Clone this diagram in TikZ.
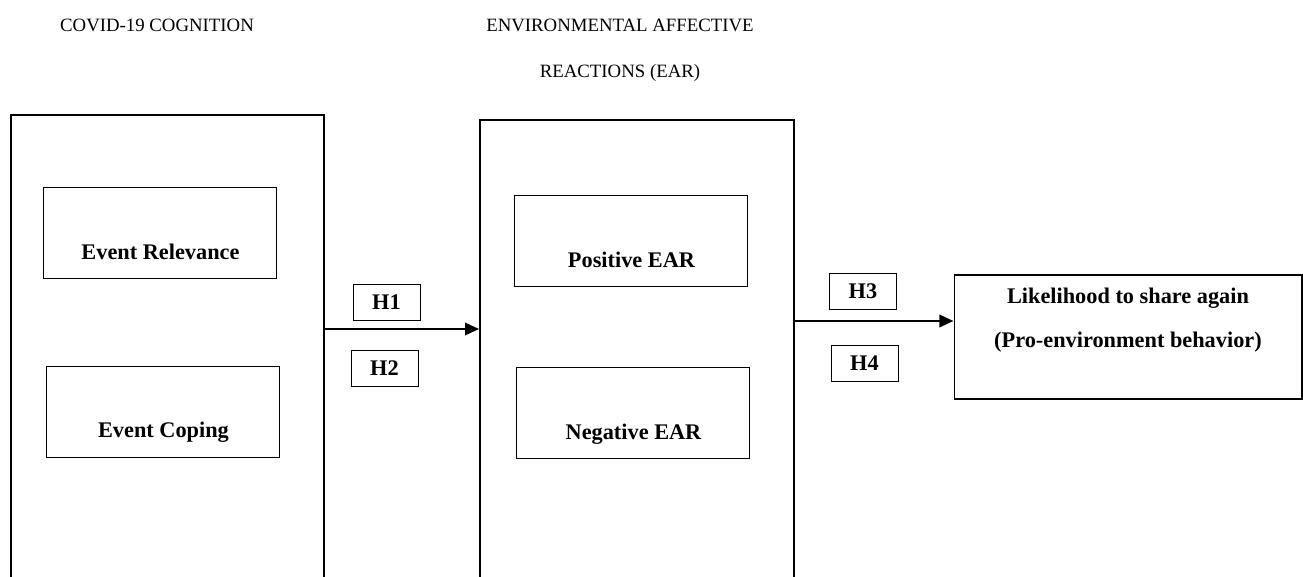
\documentclass[tikz,border=0pt]{standalone}
\usepackage{fontspec}
\setmainfont{Liberation Serif}
\usetikzlibrary{arrows.meta}
\tikzset{
    bigbox/.style={draw, line width=1.1pt, rectangle, inner sep=0pt},
    innerbox/.style={draw, line width=0.5pt, rectangle, inner sep=0pt, minimum width=4.66cm, minimum height=1.82cm},
    hbox/.style={draw, line width=0.5pt, rectangle, inner sep=0pt, minimum width=1.34cm, minimum height=0.72cm, font=\fontsize{12.7}{14}\selectfont\bfseries},
    lbl/.style={font=\fontsize{12.7}{14}\selectfont\bfseries, inner sep=0pt},
    head/.style={font=\fontsize{10.7}{13}\selectfont, inner sep=0pt},
    arr/.style={-{Triangle[length=8pt, width=7pt]}, line width=1.4pt}
}
\begin{document}
\begin{tikzpicture}[x=0.02cm, y=-0.02cm]
    \useasboundingbox (0,0) rectangle (1303,577);
    % Headings
    \node[head] (hcog) at (157,25) {COVID-19 COGNITION};
    \node[head] (hear1) at (620,25) {ENVIRONMENTAL AFFECTIVE};
    \node[head] (hear2) at (620,73) {REACTIONS (EAR)};

    % Draw the big boxes (open below the page)
    \node[bigbox, minimum width=6.26cm, minimum height=9.9cm] (cog) at (167.5,362.5) {};
    \node[bigbox, minimum width=6.28cm, minimum height=9.8cm] (ear) at (637,365) {};

    % Inner boxes
    \node[innerbox] (rel) at (159.5,232.5) {};
    \node[innerbox] (cop) at (162.5,411.5) {};
    \node[innerbox] (pos) at (630.5,240.5) {};
    \node[innerbox] (neg) at (632.5,413) {};
    \node[lbl] (reltext) at (160.5,252) {Event Relevance};
    \node[lbl] (coptext) at (163.5,432) {Event Coping};
    \node[lbl] (postext) at (631.5,260) {Positive EAR};
    \node[lbl] (negtext) at (633.5,434) {Negative EAR};

    % Outcome
    \node[draw, line width=0.6pt, rectangle, inner sep=0pt, minimum width=6.96cm, minimum height=2.48cm] (share) at (1128,337) {};
    \node[lbl] (sharetext1) at (1128,298) {Likelihood to share again};
    \node[lbl] (sharetext2) at (1128,342) {(Pro-environment behavior)};

    % Hypotheses
    \node[hbox] (h1) at (386.5,302) {H1};
    \node[hbox] (h2) at (384.5,368.5) {H2};
    \node[hbox] (h3) at (863,291) {H3};
    \node[hbox] (h4) at (864.5,363.5) {H4};

    % Arrows
    \draw[arr] (cog.east |- 0,329) -- (ear.west |- 0,329);
    \draw[arr] (ear.east |- 0,321) -- (share.west |- 0,321);
\end{tikzpicture}
\end{document}
